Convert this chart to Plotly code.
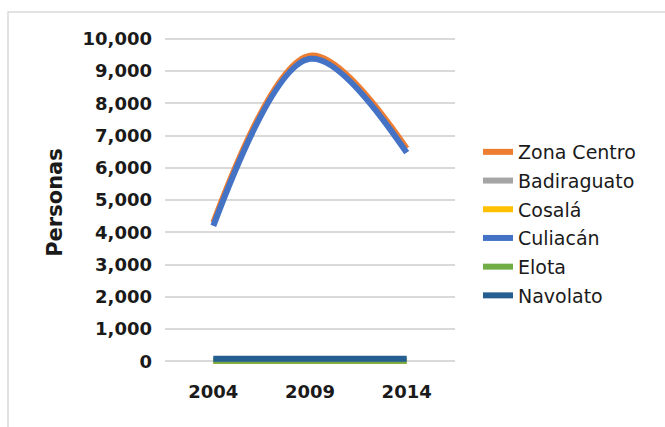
import plotly.graph_objects as go

# Población por año, Zona Centro y sus municipios
years = ["2004", "2009", "2014"]
zona_centro = [4300, 9480, 6600]
badiraguato = [10, 10, 10]
cosala = [15, 15, 15]
culiacan = [4200, 9380, 6470]
elota = [20, 20, 20]
navolato = [80, 80, 80]

series_names = ["Zona Centro", "Badiraguato", "Cosalá", "Culiacán", "Elota", "Navolato"]
series_values = [zona_centro, badiraguato, cosala, culiacan, elota, navolato]
series_colors = ["#ED7D31", "#A5A5A5", "#FFC000", "#4472C4", "#70AD47", "#255E91"]

# Order of drawing: later traces paint on top
draw_order = [0, 1, 2, 4, 3, 5]

fig = go.Figure()
for i in draw_order:
    fig.add_trace(go.Scatter(
        x=years,
        y=series_values[i],
        name=series_names[i],
        legendgroup=series_names[i],
        legendrank=i + 1,
        mode="lines",
        line=dict(color=series_colors[i], width=6, shape="spline", smoothing=1.0),
        hoverinfo="x+y+name",
    ))

W, H = 665, 427
L, R, T, B = 165, 210, 34, 56
PW, PH = W - L - R, H - T - B
bold_font = "DejaVu Sans, sans-serif"
text_color = "#1a1a1a"

fig.update_layout(
    width=W,
    height=H,
    margin=dict(l=L, r=R, t=T, b=B),
    paper_bgcolor="white",
    plot_bgcolor="white",
    font=dict(family=bold_font, color=text_color),
    showlegend=True,
    legend=dict(
        x=(478 - L) / PW,
        xanchor="left",
        y=(H - B - 224) / PH,
        yanchor="middle",
        font=dict(size=19, family="DejaVu Sans, sans-serif", color=text_color),
        itemwidth=30,
        tracegroupgap=1,
        bgcolor="rgba(0,0,0,0)",
    ),
    xaxis=dict(
        type="category",
        range=[-0.5, 2.5],
        showgrid=False,
        showline=False,
        zeroline=False,
        ticks="",
        tickfont=dict(size=18, family=bold_font, color=text_color, weight="bold"),
        ticklabelstandoff=8,
    ),
    yaxis=dict(
        range=[-300, 10150],
        tickvals=list(range(0, 10001, 1000)),
        tickformat=",d",
        showgrid=True,
        gridcolor="#D9D9D9",
        gridwidth=1.5,
        zeroline=False,
        showline=False,
        ticks="",
        ticklabelstandoff=12,
        tickfont=dict(size=18, family=bold_font, color=text_color, weight="bold"),
        title=dict(
            text="Personas",
            font=dict(size=21, family=bold_font, color=text_color, weight="bold"),
            standoff=14,
        ),
    ),
)

# Chart frame: top and left edges
fig.add_shape(
    type="rect",
    xref="paper", yref="paper",
    x0=(8 - L) / PW, x1=(W + 20 - L) / PW,
    y0=(H - B - (H + 20)) / PH, y1=(H - B - 12) / PH,
    line=dict(color="#D9D9D9", width=1.5),
    fillcolor="rgba(0,0,0,0)",
    layer="below",
)

fig.write_html("out.html")
